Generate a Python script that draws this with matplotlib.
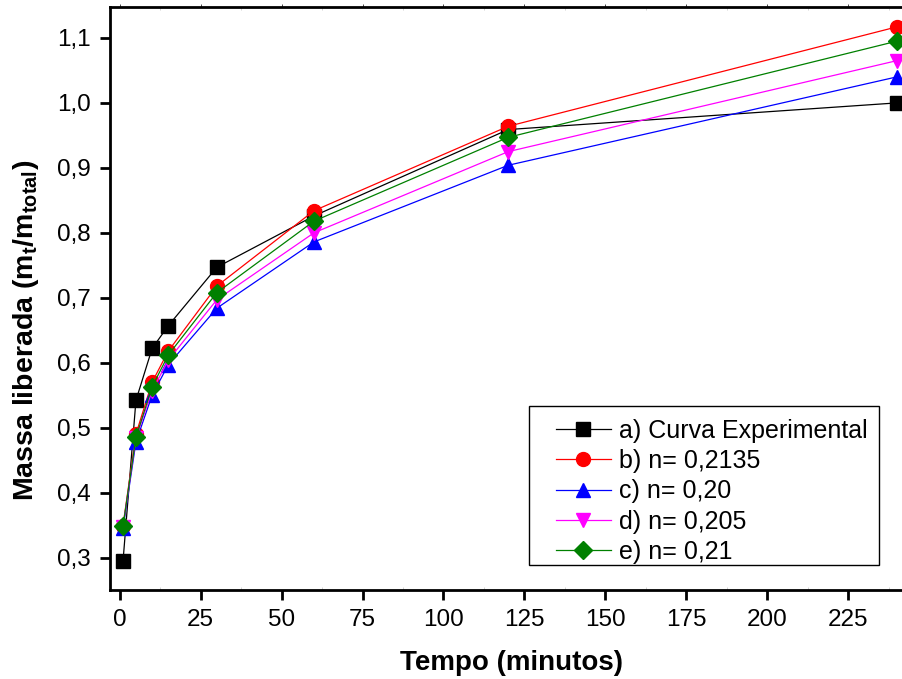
import numpy as np
import matplotlib
matplotlib.use('Agg')
from matplotlib import pyplot as plt
from matplotlib.lines import Line2D
from matplotlib.patches import Rectangle
from matplotlib.legend_handler import HandlerLine2D
from matplotlib.ticker import FuncFormatter, MultipleLocator

plt.rcParams['font.family'] = ['Liberation Sans', 'DejaVu Sans']
plt.rcParams['mathtext.fontset'] = 'custom'
plt.rcParams['mathtext.bf'] = 'Liberation Sans:bold'
plt.rcParams['mathtext.rm'] = 'Liberation Sans:bold'
plt.rcParams['mathtext.default'] = 'bf'

# Data
tempo = [1, 5, 10, 15, 30, 60, 120, 240]
curva_exp = [0.294, 0.542, 0.622, 0.657, 0.747, 0.826, 0.959, 1.000]
n_02135 = [0.349, 0.490, 0.570, 0.618, 0.718, 0.834, 0.964, 1.117]
n_020 = [0.345, 0.478, 0.550, 0.597, 0.684, 0.786, 0.904, 1.040]
n_0205 = [0.347, 0.484, 0.557, 0.604, 0.697, 0.800, 0.925, 1.065]
n_021 = [0.348, 0.485, 0.563, 0.612, 0.708, 0.818, 0.947, 1.095]

series = [
    ('a) Curva Experimental', curva_exp, 'black', 's'),
    ('b) n= 0,2135', n_02135, 'red', 'o'),
    ('c) n= 0,20', n_020, 'blue', '^'),
    ('d) n= 0,205', n_0205, 'magenta', 'v'),
    ('e) n= 0,21', n_021, 'green', 'D'),
]

fig = plt.figure(figsize=(9.02, 6.79), dpi=100)
ax = fig.add_axes([0.122, 0.131, 0.89, 0.859])

for label, vals, col, mk in series:
    ms = 9 if mk == 'D' else 10
    ax.plot(tempo, vals, color=col, marker=mk, markersize=ms, linewidth=0.9,
            markeredgecolor=col, label=label, clip_on=False)

ax.set_xlim(-3, 245)
ax.set_ylim(0.25, 1.148)
ax.xaxis.set_major_locator(MultipleLocator(25))
ax.xaxis.set_minor_locator(MultipleLocator(12.5))
ax.yaxis.set_major_locator(MultipleLocator(0.1))
ax.yaxis.set_major_formatter(FuncFormatter(lambda v, p: ('%.1f' % v).replace('.', ',')))

for s in ax.spines.values():
    s.set_linewidth(2)
ax.spines['right'].set_visible(False)

ax.tick_params(axis='both', which='major', direction='out', length=7, width=2,
               labelsize=17.5, pad=7)
ax.tick_params(axis='x', which='minor', direction='in', length=2, width=0.5,
               color='#c0c0c0', top=True)
ax.tick_params(axis='x', which='major', top=True, labeltop=False)
# faint top ticks
for t in ax.xaxis.get_major_ticks():
    t.tick2line.set_color('#c0c0c0')
    t.tick2line.set_markersize(2)
    t.tick2line.set_markeredgewidth(0.5)

ax.set_xlabel('Tempo (minutos)', fontsize=20, fontweight='bold', labelpad=13)
ax.set_ylabel(r'Massa liberada (m$_{t}$/m$_{total}$)', fontsize=20.5,
              fontweight='bold')
ax.yaxis.set_label_coords(-0.086, 0.446)

# legend box drawn separately so the padding matches
box = Rectangle((0.587, 0.168), 0.387, 0.2345, transform=fig.transFigure,
                facecolor='white', edgecolor='black', linewidth=1, zorder=4)
ax.add_artist(box)
leg = ax.legend(loc='upper left', bbox_to_anchor=(0.587, 0.3996),
                bbox_transform=fig.transFigure, borderaxespad=0,
                fontsize=18, frameon=False, handlelength=2.8,
                handletextpad=0.35, labelspacing=0.25, borderpad=0.45,
                handler_map={Line2D: HandlerLine2D(xpad=0.6)})
leg.set_zorder(5)

fig.savefig('out.png', dpi=100)
